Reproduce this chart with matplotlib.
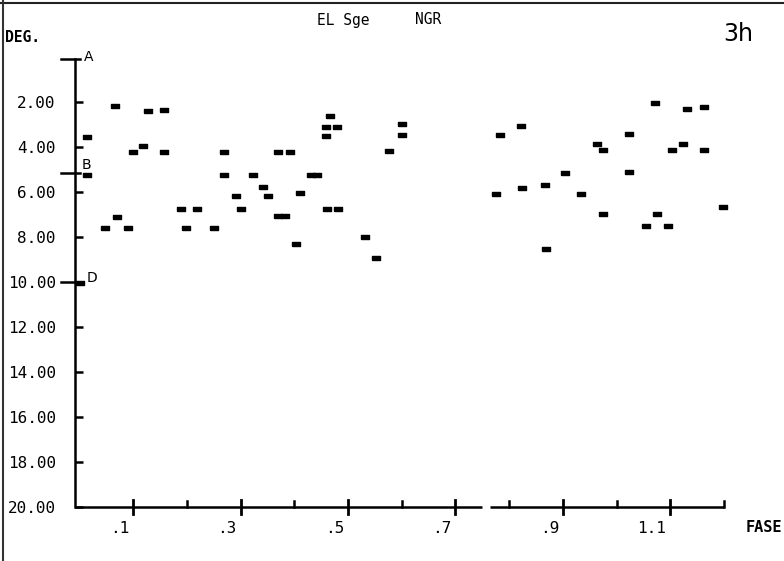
import matplotlib
matplotlib.use("Agg")
import matplotlib.pyplot as plt
import matplotlib.transforms as mtransforms
import numpy as np

# ---- data (phase, degrees) ----
phase = [0.014, 0.014, 0.000, 0.047, 0.066, 0.069, 0.091, 0.099, 0.119, 0.127,
         0.157, 0.158, 0.189, 0.199, 0.219, 0.250, 0.269, 0.269, 0.291, 0.300,
         0.322, 0.341, 0.351, 0.370, 0.391, 0.370, 0.383, 0.403, 0.410, 0.431,
         0.443, 0.459, 0.459, 0.467, 0.479, 0.461, 0.481, 0.532, 0.552, 0.577,
         0.600, 0.600, 0.775, 0.783, 0.822, 0.824, 0.866, 0.868, 0.904, 0.934,
         0.963, 0.974, 0.975, 1.023, 1.024, 1.055, 1.072, 1.076, 1.096, 1.103,
         1.123, 1.132, 1.163, 1.163, 1.198]
deg = [3.56, 5.24, 10.05, 7.63, 2.18, 7.12, 7.63, 4.25, 3.98, 2.41,
       2.37, 4.24, 6.78, 7.62, 6.78, 7.61, 4.25, 5.24, 6.18, 6.78,
       5.24, 5.80, 6.18, 4.22, 4.22, 7.10, 7.10, 8.33, 6.04, 5.24,
       5.24, 3.14, 3.52, 2.64, 3.14, 6.78, 6.78, 8.03, 8.96, 4.20,
       2.99, 3.49, 6.12, 3.48, 3.08, 5.85, 5.72, 8.54, 5.15, 6.08,
       3.88, 4.14, 7.00, 3.45, 5.14, 7.51, 2.07, 7.00, 7.51, 4.13,
       3.88, 2.32, 2.24, 4.13, 6.69]

y_ticks = [2, 4, 6, 8, 10, 12, 14, 16, 18, 20]
y_ticklabels = ["2.00", "4.00", "6.00", "8.00", "10.00", "12.00", "14.00", "16.00", "18.00", "20.00"]
x_major = [0.1, 0.3, 0.5, 0.7, 0.9, 1.1]
x_major_labels = [".1", ".3", ".5", ".7", ".9", "1.1"]
x_minor = [0.2, 0.4, 0.6, 0.8, 1.0, 1.2]
ref_marks = {"A": 0.1, "B": 5.15, "D": 10.0}

W, H = 784, 561
fig = plt.figure(figsize=(W / 100, H / 100), dpi=100)
fig.patch.set_facecolor("white")

x0, x1 = -0.008, 1.2
px_left, px_right = 75.3, 724.0
py_top, py_bot = 56.7, 506.7
ax = fig.add_axes([px_left / W, 1 - py_bot / H, (px_right - px_left) / W, (py_bot - py_top) / H])
ax.set_xlim(x0, x1)
ax.set_ylim(20, 0)
ax.set_facecolor("white")

for s in ["top", "right", "bottom"]:
    ax.spines[s].set_visible(False)
ax.spines["left"].set_linewidth(1.8)
ax.spines["left"].set_bounds(0.1, 20)

mono = "DejaVu Sans Mono"

# y ticks
ax.set_yticks(y_ticks)
ax.set_yticklabels(y_ticklabels, fontfamily=mono, fontsize=11.5)
ax.tick_params(axis="y", direction="in", length=6, width=1.8, pad=14)

# x ticks: drawn manually
ax.set_xticks([])

# bottom axis with gap
gap0, gap1 = 0.750, 0.764
ax.plot([x0, gap0], [20, 20], color="black", lw=1.8, clip_on=False, solid_capstyle="butt")
ax.plot([gap1, x1], [20, 20], color="black", lw=1.8, clip_on=False, solid_capstyle="butt")

trans_x = mtransforms.blended_transform_factory(ax.transData, ax.transAxes)
for xv, lab in zip(x_major, x_major_labels):
    ax.plot([xv, xv], [-0.016, 0.016], transform=trans_x, color="black", lw=2.0, clip_on=False)
    off = mtransforms.ScaledTranslation(-4 / 100, -14 / 100, fig.dpi_scale_trans)
    ax.text(xv, 0, lab, transform=trans_x + off, ha="right", va="top",
            fontfamily=mono, fontsize=11.5)
for xv in x_minor:
    ax.plot([xv, xv], [0, 0.013], transform=trans_x, color="black", lw=1.8, clip_on=False)

# reference marks A, B, D on the y-axis
trans_y = mtransforms.blended_transform_factory(ax.transAxes, ax.transData)
for lab, yv in ref_marks.items():
    ax.plot([-0.022, 0.008], [yv, yv], transform=trans_y, color="black", lw=1.8, clip_on=False)
ax.text(0.013, ref_marks["A"] - 0.1, "A", transform=trans_y, ha="left", va="center", fontsize=10)
ax.text(0.010, ref_marks["B"] - 0.35, "B", transform=trans_y, ha="left", va="center", fontsize=10)
ax.text(0.018, ref_marks["D"] - 0.15, "D", transform=trans_y, ha="left", va="center", fontsize=10)

# data: short horizontal dashes
dash = [(-1, -0.45), (1, -0.45), (1, 0.45), (-1, 0.45), (-1, -0.45)]
ax.plot(phase, deg, linestyle="none", marker=dash, markersize=5.2,
        color="black", clip_on=False)

# texts in figure pixel coordinates
def ftext(x, y, s, **kw):
    fig.text(x / W, 1 - y / H, s, **kw)

ftext(5, 37, "DEG.", ha="left", va="center", fontfamily=mono, fontweight="bold", fontsize=10.5)
ftext(343, 20, "EL Sge", ha="center", va="center", fontfamily=mono, fontsize=10.5)
ftext(428, 20, "NGR", ha="center", va="center", fontfamily=mono, fontsize=10.5)
ftext(738, 34, "3h", ha="center", va="center", fontsize=17)
ftext(782, 528, "FASE", ha="right", va="center", fontfamily=mono, fontweight="bold", fontsize=11)

# scan frame lines
fig.add_artist(plt.Line2D([0, 1], [1 - 3 / H, 1 - 3 / H], transform=fig.transFigure, color="#222222", lw=1.5))
fig.add_artist(plt.Line2D([3 / W, 3 / W], [0, 1], transform=fig.transFigure, color="#333333", lw=1.5))

fig.savefig("out.png", dpi=100, facecolor="white")
